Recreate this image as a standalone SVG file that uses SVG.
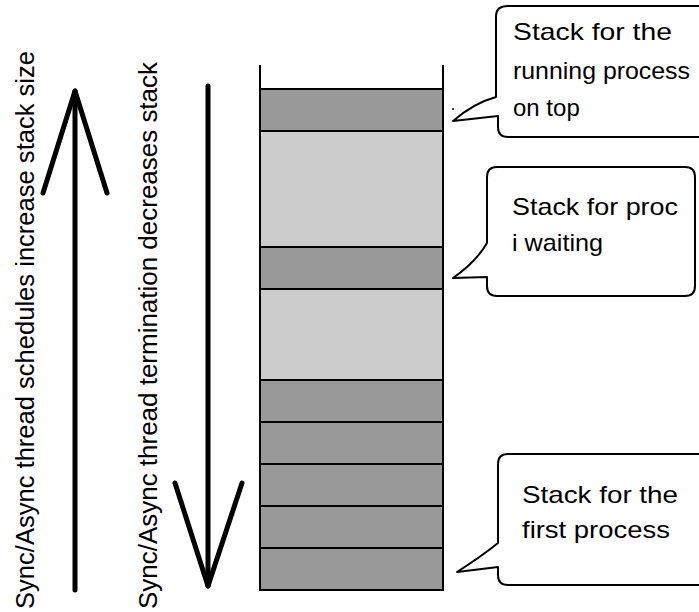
<svg xmlns="http://www.w3.org/2000/svg" width="699" height="612" viewBox="0 0 699 612">
<style>
  .dark { fill: #999999; stroke: #000; stroke-width: 2; }
  .light { fill: #cccccc; stroke: #000; stroke-width: 2; }
  .wall { stroke: #000; stroke-width: 2; fill: none; }
  .arrow { stroke: #000; stroke-width: 5; fill: none; stroke-linecap: round; stroke-linejoin: round; }
  .vtext { font-family: "Liberation Sans", Arial, sans-serif; font-size: 25px; fill: #000; }
  .callout { fill: #fff; stroke: #000; stroke-width: 2; stroke-linejoin: round; }
  .ctext { font-family: "Liberation Sans", Arial, sans-serif; font-size: 24px; fill: #000; }
</style>
<rect x="0" y="0" width="699" height="612" fill="#fff"/>

<g id="stack">
  <rect class="dark" x="260" y="89" width="183" height="42"/>
  <rect class="light" x="260" y="131" width="183" height="116"/>
  <rect class="dark" x="260" y="247" width="183" height="42"/>
  <rect class="light" x="260" y="289" width="183" height="91"/>
  <rect class="dark" x="260" y="380" width="183" height="42"/>
  <rect class="dark" x="260" y="422" width="183" height="42"/>
  <rect class="dark" x="260" y="464" width="183" height="42"/>
  <rect class="dark" x="260" y="506" width="183" height="42"/>
  <rect class="dark" x="260" y="548" width="183" height="42"/>
  <line class="wall" x1="260" y1="65" x2="260" y2="590"/>
  <line class="wall" x1="443" y1="65" x2="443" y2="590"/>
</g>

<g id="connectors">
  <g id="arrow-up">
    <line class="arrow" x1="75" y1="590" x2="75" y2="91"/>
    <polyline class="arrow" points="43,193 75,91 107,193"/>
  </g>
  <g id="arrow-down">
    <line class="arrow" x1="208" y1="86" x2="208" y2="586"/>
    <polyline class="arrow" points="175,483 208,586 242,483"/>
  </g>
</g>

<g id="label-increase">
  <text class="vtext" transform="translate(34,609) rotate(-90)" textLength="558" lengthAdjust="spacingAndGlyphs">Sync/Async thread schedules increase stack size</text>
</g>
<g id="label-decrease">
  <text class="vtext" transform="translate(157,609) rotate(-90)" textLength="547" lengthAdjust="spacingAndGlyphs">Sync/Async thread termination decreases stack</text>
</g>

<g id="callout-top">
  <path class="callout" d="M508,6 H712 V137 H508 Q498,137 498,127 V116 L453,121 Q474,103 496,97 V16 Q496,6 508,6 Z"/>
  <circle cx="453" cy="109" r="1" fill="#000"/>
  <text class="ctext" x="513" y="40" textLength="159" lengthAdjust="spacingAndGlyphs">Stack for the</text>
  <text class="ctext" x="513" y="79" textLength="177" lengthAdjust="spacingAndGlyphs">running process</text>
  <text class="ctext" x="513" y="116">on top</text>
</g>

<g id="callout-waiting">
  <path class="callout" d="M497,167 H685 Q695,167 695,177 V286 Q695,296 685,296 H497 Q487,296 487,286 V277 L453,278 Q476,262 487,243 V177 Q487,167 497,167 Z"/>
  <text class="ctext" x="512" y="215" textLength="166" lengthAdjust="spacingAndGlyphs">Stack for proc</text>
  <text class="ctext" x="512" y="251" textLength="91" lengthAdjust="spacingAndGlyphs">i waiting</text>
</g>

<g id="callout-first">
  <path class="callout" d="M508,454 H712 V585 H508 Q498,585 498,575 V567 L457,572 Q482,556 498,543 V464 Q498,454 508,454 Z"/>
  <text class="ctext" x="522" y="503" textLength="156" lengthAdjust="spacingAndGlyphs">Stack for the</text>
  <text class="ctext" x="522" y="538" textLength="148" lengthAdjust="spacingAndGlyphs">first process</text>
</g>
</svg>
